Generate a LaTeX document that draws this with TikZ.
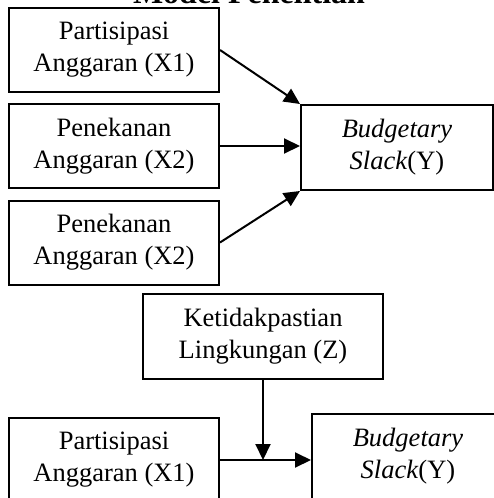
\documentclass[tikz,border=0pt]{standalone}
\usepackage{fontspec}
\setmainfont{Liberation Serif}
\usetikzlibrary{arrows.meta}

\tikzset{
    varbox/.style={draw, line width=2pt, align=center, inner sep=0pt,
        minimum width=210pt, minimum height=84pt,
        font=\fontsize{26.5}{32}\selectfont},
    panah/.style={line width=2pt, -{Triangle[length=16pt,width=15pt]}}
}

\begin{document}
\begin{tikzpicture}[x=1pt,y=-1pt]
            \useasboundingbox (0,0) rectangle (494,498);
            \node[anchor=base, font=\fontsize{32}{38}\selectfont\bfseries] (judul) at (249,3.5) {Model Penelitian};
            % model atas
            \node[varbox] (px1) at (114,50) {Partisipasi\\Anggaran (X1)};
            \node[varbox] (px2) at (114,146) {Penekanan\\Anggaran (X2)};
            \node[varbox] (px3) at (114,242.5) {Penekanan\\Anggaran (X2)};
            \node[varbox, minimum width=192pt, minimum height=85pt] (bs) at (397,147.5) {\textit{Budgetary}\\\textit{Slack}(Y)};
            \draw[panah] (px1.east) -- (bs.north west);
            \draw[panah] (px2.east) -- (px2.east -| bs.west);
            \draw[panah] (px3.east) -- (bs.south west);
            % model moderasi
            \node[varbox, minimum width=240pt, minimum height=85pt] (kl) at (263,336.5) {Ketidakpastian\\Lingkungan (Z)};
            \node[varbox] (bx1) at (114,460) {Partisipasi\\Anggaran (X1)};
            \node[varbox, minimum width=192pt, minimum height=85pt] (by) at (408,456.5) {\textit{Budgetary}\\\textit{Slack}(Y)};
            \coordinate (titik) at (kl.south |- bx1.east);
            \draw[panah] (bx1.east) -- (bx1.east -| by.west);
            \draw[panah] (kl.south) -- (titik);
        \end{tikzpicture}
\end{document}
